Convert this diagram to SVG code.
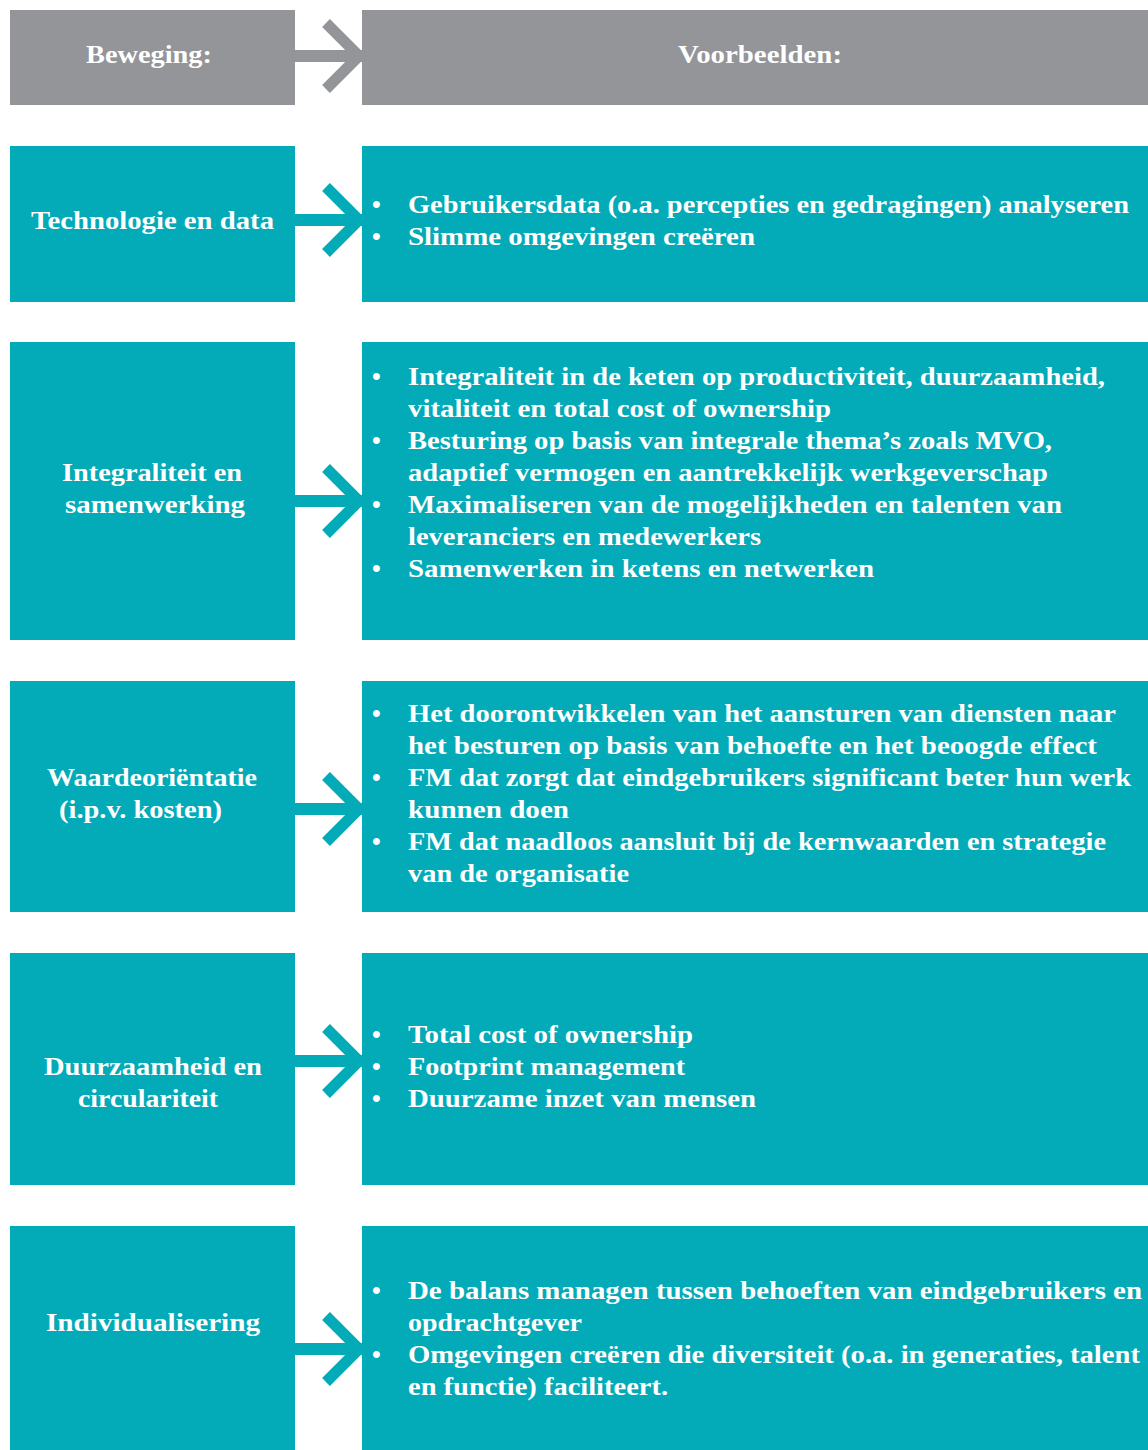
<svg xmlns="http://www.w3.org/2000/svg" width="1148" height="1450" viewBox="0 0 1148 1450">
<style>
.g{fill:#939598}
.t{fill:#03aab7}
.ag{stroke:#939598;fill:none}
.at{stroke:#03aab7;fill:none}
.bar{stroke-width:12}
.chev{stroke-width:11;stroke-linejoin:miter;stroke-miterlimit:10}
text{font-family:"Liberation Serif","DejaVu Serif",serif;font-weight:bold;font-size:25px;fill:#ffffff}
</style>
<rect width="1148" height="1450" fill="#ffffff"/>
<g id="connectors">
<line class="ag bar" x1="295" y1="56" x2="362" y2="56"/>
<polyline class="ag chev" points="326,23 359,56 326,89"/>
<line class="at bar" x1="295" y1="220" x2="362" y2="220"/>
<polyline class="at chev" points="326,187 359,220 326,253"/>
<line class="at bar" x1="295" y1="501" x2="362" y2="501"/>
<polyline class="at chev" points="326,468 359,501 326,534"/>
<line class="at bar" x1="295" y1="809" x2="362" y2="809"/>
<polyline class="at chev" points="326,776 359,809 326,842"/>
<line class="at bar" x1="295" y1="1061" x2="362" y2="1061"/>
<polyline class="at chev" points="326,1028 359,1061 326,1094"/>
<line class="at bar" x1="295" y1="1349" x2="362" y2="1349"/>
<polyline class="at chev" points="326,1316 359,1349 326,1382"/>
</g>
<g id="header-left">
<rect class="g" x="10" y="10" width="285" height="95"/>
<text x="86" y="63" textLength="126" lengthAdjust="spacingAndGlyphs">Beweging:</text>
</g>
<g id="header-right">
<rect class="g" x="362" y="10" width="786" height="95"/>
<text x="678" y="63" textLength="164" lengthAdjust="spacingAndGlyphs">Voorbeelden:</text>
</g>
<g id="row1-left">
<rect class="t" x="10" y="146" width="285" height="156"/>
<text x="31" y="229" textLength="243" lengthAdjust="spacingAndGlyphs">Technologie en data</text>
</g>
<g id="row1-right">
<rect class="t" x="362" y="146" width="786" height="156"/>
<text x="372" y="213">•</text><text x="408" y="213" textLength="721" lengthAdjust="spacingAndGlyphs">Gebruikersdata (o.a. percepties en gedragingen) analyseren</text>
<text x="372" y="245">•</text><text x="408" y="245" textLength="347" lengthAdjust="spacingAndGlyphs">Slimme omgevingen creëren</text>
</g>
<g id="row2-left">
<rect class="t" x="10" y="342" width="285" height="298"/>
<text x="62" y="481" textLength="180" lengthAdjust="spacingAndGlyphs">Integraliteit en</text>
<text x="65" y="513" textLength="180" lengthAdjust="spacingAndGlyphs">samenwerking</text>
</g>
<g id="row2-right">
<rect class="t" x="362" y="342" width="786" height="298"/>
<text x="372" y="385">•</text><text x="408" y="385" textLength="697" lengthAdjust="spacingAndGlyphs">Integraliteit in de keten op productiviteit, duurzaamheid,</text>
<text x="408" y="417" textLength="423" lengthAdjust="spacingAndGlyphs">vitaliteit en total cost of ownership</text>
<text x="372" y="449">•</text><text x="408" y="449" textLength="644" lengthAdjust="spacingAndGlyphs">Besturing op basis van integrale thema’s zoals MVO,</text>
<text x="408" y="481" textLength="640" lengthAdjust="spacingAndGlyphs">adaptief vermogen en aantrekkelijk werkgeverschap</text>
<text x="372" y="513">•</text><text x="408" y="513" textLength="654" lengthAdjust="spacingAndGlyphs">Maximaliseren van de mogelijkheden en talenten van</text>
<text x="408" y="545" textLength="353" lengthAdjust="spacingAndGlyphs">leveranciers en medewerkers</text>
<text x="372" y="577">•</text><text x="408" y="577" textLength="466" lengthAdjust="spacingAndGlyphs">Samenwerken in ketens en netwerken</text>
</g>
<g id="row3-left">
<rect class="t" x="10" y="681" width="285" height="231"/>
<text x="47" y="786" textLength="210" lengthAdjust="spacingAndGlyphs">Waardeoriëntatie</text>
<text x="59" y="818" textLength="163" lengthAdjust="spacingAndGlyphs">(i.p.v. kosten)</text>
</g>
<g id="row3-right">
<rect class="t" x="362" y="681" width="786" height="231"/>
<text x="372" y="722">•</text><text x="408" y="722" textLength="708" lengthAdjust="spacingAndGlyphs">Het doorontwikkelen van het aansturen van diensten naar</text>
<text x="408" y="754" textLength="689" lengthAdjust="spacingAndGlyphs">het besturen op basis van behoefte en het beoogde effect</text>
<text x="372" y="786">•</text><text x="408" y="786" textLength="723" lengthAdjust="spacingAndGlyphs">FM dat zorgt dat eindgebruikers significant beter hun werk</text>
<text x="408" y="818" textLength="161" lengthAdjust="spacingAndGlyphs">kunnen doen</text>
<text x="372" y="850">•</text><text x="408" y="850" textLength="698" lengthAdjust="spacingAndGlyphs">FM dat naadloos aansluit bij de kernwaarden en strategie</text>
<text x="408" y="882" textLength="221" lengthAdjust="spacingAndGlyphs">van de organisatie</text>
</g>
<g id="row4-left">
<rect class="t" x="10" y="953" width="285" height="232"/>
<text x="44" y="1075" textLength="218" lengthAdjust="spacingAndGlyphs">Duurzaamheid en</text>
<text x="78" y="1107" textLength="140" lengthAdjust="spacingAndGlyphs">circulariteit</text>
</g>
<g id="row4-right">
<rect class="t" x="362" y="953" width="786" height="232"/>
<text x="372" y="1043">•</text><text x="408" y="1043" textLength="285" lengthAdjust="spacingAndGlyphs">Total cost of ownership</text>
<text x="372" y="1075">•</text><text x="408" y="1075" textLength="277" lengthAdjust="spacingAndGlyphs">Footprint management</text>
<text x="372" y="1107">•</text><text x="408" y="1107" textLength="348" lengthAdjust="spacingAndGlyphs">Duurzame inzet van mensen</text>
</g>
<g id="row5-left">
<rect class="t" x="10" y="1226" width="285" height="224"/>
<text x="46" y="1331" textLength="214" lengthAdjust="spacingAndGlyphs">Individualisering</text>
</g>
<g id="row5-right">
<rect class="t" x="362" y="1226" width="786" height="224"/>
<text x="372" y="1299">•</text><text x="408" y="1299" textLength="734" lengthAdjust="spacingAndGlyphs">De balans managen tussen behoeften van eindgebruikers en</text>
<text x="408" y="1331" textLength="174" lengthAdjust="spacingAndGlyphs">opdrachtgever</text>
<text x="372" y="1363">•</text><text x="408" y="1363" textLength="732" lengthAdjust="spacingAndGlyphs">Omgevingen creëren die diversiteit (o.a. in generaties, talent</text>
<text x="408" y="1395" textLength="260" lengthAdjust="spacingAndGlyphs">en functie) faciliteert.</text>
</g>
</svg>
